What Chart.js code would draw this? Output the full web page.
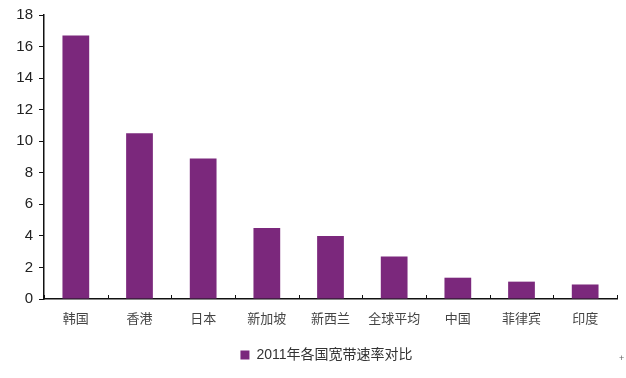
<!DOCTYPE html>
<html>
<head>
<meta charset="utf-8">
<script src="https://cdn.jsdelivr.net/npm/chart.js@4/dist/chart.umd.min.js"></script>
<style>
  html, body { margin: 0; padding: 0; background: #fff; }
  #wrap { position: relative; width: 626px; height: 378px; }
  #mark { position: absolute; left: 619px; top: 353px; font: 9px "Liberation Sans", sans-serif; color: #666; }
</style>
</head>
<body>
<div id="wrap">
  <canvas id="speedChart" width="626" height="378"></canvas>
  <div id="mark">+</div>
</div>
<script>
const countries = ['韩国', '香港', '日本', '新加坡', '新西兰', '全球平均', '中国', '菲律宾', '印度'];
const speeds = [16.7, 10.5, 8.9, 4.5, 4.0, 2.7, 1.35, 1.1, 0.92];
const seriesName = '2011年各国宽带速率对比';
const barColor = '#7B287C';

// small upward ticks between categories, like the original
const categoryTicks = {
    id: 'categoryTicks',
    afterLayout(chart) {
        // legend in the original sits a bit right of centre
        chart.legend.left += 18;
        chart.legend.right += 18;
    },
    afterDraw(chart) {
        const x = chart.scales.x;
        const ctx = chart.ctx;
        const bottom = chart.chartArea.bottom;
        ctx.save();
        ctx.strokeStyle = '#111';
        ctx.lineWidth = 1;
        for (let i = 0; i <= countries.length; i++) {
            const px = Math.round(x.getPixelForValue(i - 0.5)) + 0.5;
            ctx.beginPath();
            ctx.moveTo(px, bottom);
            ctx.lineTo(px, bottom - 4);
            ctx.stroke();
        }
        ctx.restore();
    }
};

const ctx = document.getElementById('speedChart').getContext('2d');
new Chart(ctx, {
    type: 'bar',
    data: {
        labels: countries,
        datasets: [{
            label: seriesName,
            data: speeds,
            backgroundColor: barColor,
            borderWidth: 0,
            barPercentage: 0.84,
            categoryPercentage: 0.5
        }]
    },
    options: {
        responsive: false,
        animation: false,
        layout: { padding: { left: 0, right: 9, top: 5, bottom: 6 } },
        plugins: {
            tooltip: { enabled: false },
            legend: {
                position: 'bottom',
                labels: {
                    boxWidth: 9,
                    boxHeight: 9,
                    padding: 8,
                    color: '#333',
                    font: { family: '"Liberation Sans", "Noto Sans CJK SC", sans-serif', size: 14 }
                }
            }
        },
        scales: {
            x: {
                grid: { display: false },
                border: { color: '#111', width: 1.5 },
                ticks: {
                    color: '#444',
                    padding: 3,
                    font: { family: '"Noto Sans CJK SC", sans-serif', size: 13 }
                },
                afterFit(scale) { scale.height = 41; }
            },
            y: {
                min: 0,
                max: 18,
                grid: { drawOnChartArea: false, tickLength: 5, color: '#111' },
                border: { color: '#111', width: 1.5 },
                ticks: {
                    stepSize: 2,
                    color: '#222',
                    padding: 6,
                    font: { family: '"Liberation Sans", sans-serif', size: 15 }
                },
                afterFit(scale) { scale.width = 44; }
            }
        }
    },
    plugins: [categoryTicks]
});
</script>
</body>
</html>
